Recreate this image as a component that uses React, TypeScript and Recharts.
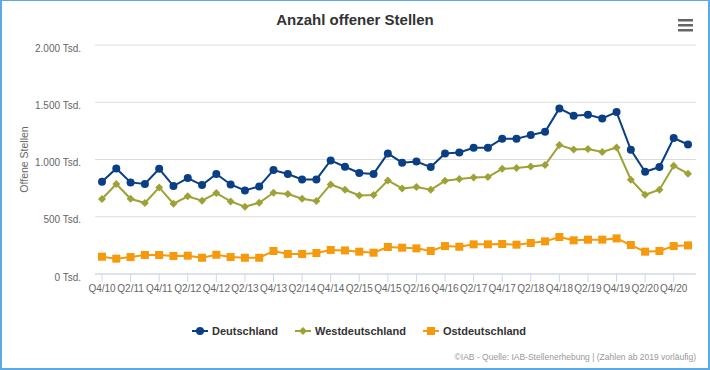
import React from 'react';
import { LineChart, Line, XAxis, YAxis, CartesianGrid, Legend } from 'recharts';

const quarters = [
  'Q4/10', 'Q1/11', 'Q2/11', 'Q3/11', 'Q4/11', 'Q1/12', 'Q2/12', 'Q3/12', 'Q4/12', 'Q1/13',
  'Q2/13', 'Q3/13', 'Q4/13', 'Q1/14', 'Q2/14', 'Q3/14', 'Q4/14', 'Q1/15', 'Q2/15', 'Q3/15',
  'Q4/15', 'Q1/16', 'Q2/16', 'Q3/16', 'Q4/16', 'Q1/17', 'Q2/17', 'Q3/17', 'Q4/17', 'Q1/18',
  'Q2/18', 'Q3/18', 'Q4/18', 'Q1/19', 'Q2/19', 'Q3/19', 'Q4/19', 'Q1/20', 'Q2/20', 'Q3/20',
  'Q4/20', 'Q1/21',
];

const deutschland = [
  806, 922, 800, 786, 919, 768, 838, 777, 873, 782,
  730, 765, 908, 873, 826, 826, 992, 937, 882, 874,
  1053, 972, 983, 934, 1053, 1062, 1103, 1103, 1181, 1181,
  1213, 1242, 1446, 1382, 1391, 1359, 1414, 1085, 893, 934,
  1187, 1131,
];

const westdeutschland = [
  655, 786, 657, 620, 756, 614, 678, 640, 707, 634,
  588, 622, 710, 698, 657, 637, 782, 736, 686, 690,
  817, 747, 759, 736, 814, 829, 843, 847, 919, 925,
  939, 952, 1126, 1088, 1091, 1065, 1105, 823, 692, 736,
  945, 876,
];

const ostdeutschland = [
  151, 134, 148, 166, 166, 157, 160, 142, 168, 148,
  142, 142, 201, 175, 175, 183, 210, 206, 195, 186,
  236, 230, 224, 201, 244, 238, 259, 259, 262, 256,
  271, 285, 323, 294, 300, 300, 311, 253, 195, 201,
  244, 250,
];

const yTicks = [0, 500, 1000, 1500, 2000];

const data = quarters.map((q, i) => ({
  q,
  de: deutschland[i],
  west: westdeutschland[i],
  ost: ostdeutschland[i],
}));

const BLUE = '#0b3f84';
const OLIVE = '#9ea236';
const ORANGE = '#f5990d';
const FONT = '"Liberation Sans", Arial, sans-serif';

const fmtTsd = (v: number) =>
  v >= 1000 ? `${Math.floor(v / 1000)}.${String(v % 1000).padStart(3, '0')} Tsd.` : `${v} Tsd.`;

const Marker = ({ kind, cx, cy, color }: { kind: string; cx: number; cy: number; color: string }) => {
  if (kind === 'circle') return <circle cx={cx} cy={cy} r={4} fill={color} />;
  if (kind === 'diamond')
    return <path d={`M${cx},${cy - 4} L${cx + 4},${cy} L${cx},${cy + 4} L${cx - 4},${cy} Z`} fill={color} />;
  return <rect x={cx - 4} y={cy - 4} width={8} height={8} fill={color} />;
};

const makeDot = (kind: string, color: string) => (props: any) => {
  const { cx, cy, index } = props;
  if (cx == null || cy == null) return <g key={index} />;
  return <Marker key={index} kind={kind} cx={cx} cy={cy} color={color} />;
};

const legendItems = [
  { name: 'Deutschland', kind: 'circle', color: BLUE },
  { name: 'Westdeutschland', kind: 'diamond', color: OLIVE },
  { name: 'Ostdeutschland', kind: 'square', color: ORANGE },
];

const LegendContent = () => (
  <div style={{ display: 'flex', justifyContent: 'center', gap: 17, fontFamily: FONT, paddingLeft: 8 }}>
    {legendItems.map((it) => (
      <div key={it.name} style={{ display: 'flex', alignItems: 'center' }}>
        <svg width={17} height={12} style={{ marginRight: 3 }}>
          <line x1={0} y1={6} x2={16} y2={6} stroke={it.color} strokeWidth={2} />
          <Marker kind={it.kind} cx={8} cy={6} color={it.color} />
        </svg>
        <span style={{ fontSize: 11, fontWeight: 'bold', color: '#333' }}>{it.name}</span>
      </div>
    ))}
  </div>
);

export default function App() {
  return (
    <div style={{ position: 'absolute', left: 0, top: 0, width: 710, height: 370, background: '#fff', fontFamily: FONT }}>
      <div
        style={{
          position: 'absolute', left: 0, top: 11, width: 710, textAlign: 'center',
          fontSize: 15, fontWeight: 'bold', color: '#333',
        }}
      >
        Anzahl offener Stellen
      </div>
      <svg style={{ position: 'absolute', left: 678, top: 19 }} width={16} height={13}>
        <rect x={0} y={0} width={15} height={2.5} fill="#666" />
        <rect x={0} y={5} width={15} height={2.5} fill="#666" />
        <rect x={0} y={10} width={15} height={2.5} fill="#666" />
      </svg>
      <div style={{ position: 'absolute', left: 0, top: 0 }}>
        <LineChart width={710} height={370} data={data} margin={{ top: 45, right: 14, bottom: 66, left: 0 }}>
          <CartesianGrid vertical={false} stroke="#dcdcdc" />
          <XAxis
            dataKey="q"
            interval={1}
            padding={{ left: 7, right: 8 }}
            stroke="#ccd6eb"
            height={30}
            tickSize={8}
            tickMargin={3}
            tick={{ fontSize: 10, fill: '#666', fontFamily: FONT }}
          />
          <YAxis
            domain={[0, 2000]}
            ticks={yTicks}
            width={95}
            axisLine={false}
            tickLine={false}
            tickSize={6}
            tickMargin={8}
            tickFormatter={fmtTsd}
            tick={{ fontSize: 10, fill: '#666', fontFamily: FONT, dy: 3 }}
            label={{
              value: 'Offene Stellen', angle: -90, position: 'insideLeft', offset: 24,
              style: { textAnchor: 'middle', fontSize: 10.5, fill: '#666', fontFamily: FONT },
            }}
          />
          <Legend
            verticalAlign="middle"
            align="center"
            layout="horizontal"
            content={<LegendContent />}
            wrapperStyle={{ position: 'absolute', top: 325, left: 0, width: 710 }}
          />
          <Line dataKey="de" name="Deutschland" stroke={BLUE} strokeWidth={2} dot={makeDot('circle', BLUE)} isAnimationActive={false} />
          <Line dataKey="west" name="Westdeutschland" stroke={OLIVE} strokeWidth={2} dot={makeDot('diamond', OLIVE)} isAnimationActive={false} />
          <Line dataKey="ost" name="Ostdeutschland" stroke={ORANGE} strokeWidth={2} dot={makeDot('square', ORANGE)} isAnimationActive={false} />
        </LineChart>
      </div>
      <div
        style={{
          position: 'absolute', right: 14, top: 352, fontSize: 8.5, color: '#999',
        }}
      >
        ©IAB - Quelle: IAB-Stellenerhebung | (Zahlen ab 2019 vorläufig)
      </div>
      <div
        style={{
          position: 'absolute', left: 0, top: 0, width: 710, height: 370, boxSizing: 'border-box',
          border: '2px solid #5aaae6', borderTopWidth: 1, pointerEvents: 'none',
        }}
      />
    </div>
  );
}
